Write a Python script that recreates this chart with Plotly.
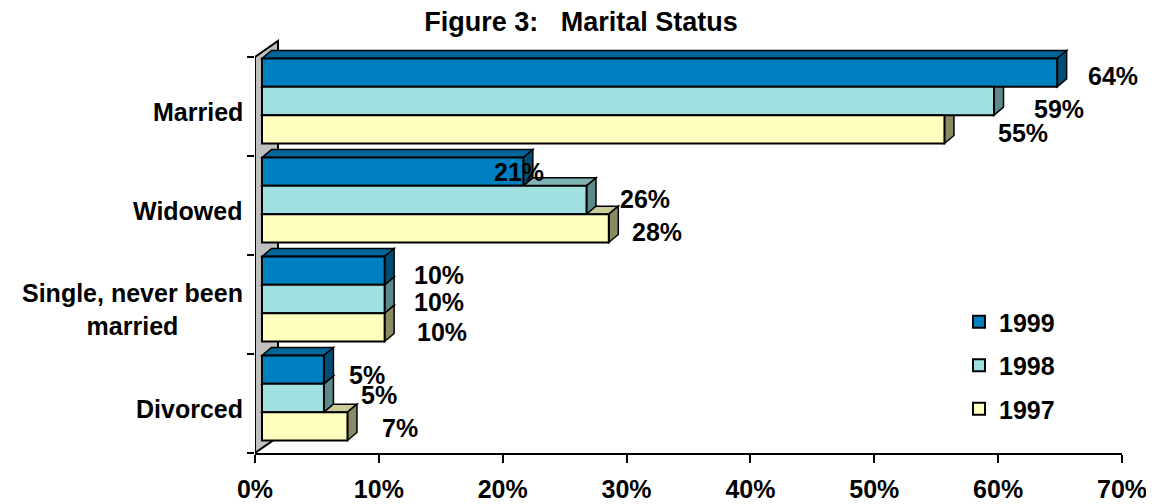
import plotly.graph_objects as go

# ---------------- data ----------------
categories = ["Married", "Widowed", "Single, never been<br>married", "Divorced"]
years = ["1999", "1998", "1997"]
values_1999 = [64.2, 21.1, 9.9, 5.0]
values_1998 = [59.1, 26.2, 9.9, 5.0]
values_1997 = [55.1, 28.0, 9.9, 6.9]
x_ticks = [0, 10, 20, 30, 40, 50, 60, 70]
x_tick_labels = [f"{t}%" for t in x_ticks]

# ---------------- styling ----------------
FONT = "Liberation Sans, Arial, Helvetica, sans-serif"
front_colors = ["#0080C0", "#A0E0E0", "#FFFFC0"]
top_colors = ["#006699", "#80B3B3", "#CCCC99"]
side_colors = ["#004D73", "#5C8A8A", "#8A8A66"]

# label nudges (pixels): right of bar end, down from bar centre
label_dx = [[21, -39, 20, 16], [30, 24, 20, 28], [44, 14, 23, 25]]
label_dy = [[3, 0, 4, 5], [8, -1, 3, -3], [4, 4, 5, 2]]

# the page body adds an 8 px margin, so the figure is sized to end at the window edge
W, H = 1146, 496
ML, MR, MT, MB = 247, 32, 28, 51
plot_w = W - ML - MR
plot_h = H - MT - MB
x_range = [0, 70]
px_per_x = plot_w / (x_range[1] - x_range[0])
y_top_val = -0.5 - 21 / 99.0
y_range = [3.5, y_top_val]
px_per_y = plot_h / (y_range[0] - y_range[1])

# 3-D geometry (in axis units)
bar_shift_x = 7 / px_per_x            # bars start slightly behind the front plane
bar_shift_y = 5.5 / px_per_y
depth_x = 9.5 / px_per_x
depth_y = 8 / px_per_y
bar_w = 28.3 / px_per_y
wall_dx = 23 / px_per_x
wall_dy = 16 / px_per_y

series = [values_1999, values_1998, values_1997]
offsets = [-1.5 * bar_w, -0.5 * bar_w, 0.5 * bar_w]
positions = list(range(len(categories)))

fig = go.Figure()

for j, (yr, vals) in enumerate(zip(years, series)):
    fig.add_trace(go.Bar(
        orientation="h",
        name=yr,
        x=vals,
        y=[p - bar_shift_y for p in positions],
        base=bar_shift_x,
        width=bar_w,
        offset=offsets[j],
        marker=dict(color=front_colors[j], line=dict(color="black", width=2)),
        legendgroup=yr,
        hoverinfo="skip",
    ))

shapes = []
# side wall
shapes.append(dict(
    type="path", xref="x", yref="y", layer="below",
    path=(f"M 0,3.5 L 0,-0.5 L {wall_dx},{-0.5 - wall_dy} "
          f"L {wall_dx},{3.5 - wall_dy} Z"),
    fillcolor="#C0C0C0", line=dict(color="black", width=2),
))

# top and side faces of the bars, drawn bottom bar first
for i in positions:
    for j in [2, 1, 0]:
        v = series[j][i]
        y_lo = i - bar_shift_y + offsets[j]
        y_hi = y_lo + bar_w
        x0 = bar_shift_x
        x1 = bar_shift_x + v
        shapes.append(dict(
            type="path", xref="x", yref="y", layer="below",
            path=(f"M {x0},{y_lo} L {x1},{y_lo} L {x1 + depth_x},{y_lo - depth_y} "
                  f"L {x0 + depth_x},{y_lo - depth_y} Z"),
            fillcolor=top_colors[j], line=dict(color="black", width=1.5),
        ))
        shapes.append(dict(
            type="path", xref="x", yref="y", layer="below",
            path=(f"M {x1},{y_lo} L {x1 + depth_x},{y_lo - depth_y} "
                  f"L {x1 + depth_x},{y_hi - depth_y} L {x1},{y_hi} Z"),
            fillcolor=side_colors[j], line=dict(color="black", width=1.5),
        ))

annotations = []
# value labels
for j, vals in enumerate(series):
    for i, v in enumerate(vals):
        annotations.append(dict(
            x=bar_shift_x + v + depth_x, y=i - bar_shift_y + offsets[j] + bar_w / 2,
            xref="x", yref="y", xanchor="left", yanchor="middle",
            text=f"{v:.0f}%", showarrow=False,
            xshift=label_dx[j][i] - 2, yshift=-label_dy[j][i],
            font=dict(family=FONT, size=25, color="black", weight="bold"),
        ))
# category labels
for i, c in enumerate(categories):
    annotations.append(dict(
        x=-10 / plot_w, y=i, xref="paper", yref="y",
        xanchor="right", yanchor="middle", align="center",
        text=c, showarrow=False, yshift=-5,
        font=dict(family=FONT, size=25, color="black", weight="bold"),
    ))

fig.update_layout(
    width=W, height=H,
    margin=dict(l=ML, r=MR, t=MT, b=MB, pad=0, autoexpand=False),
    paper_bgcolor="white", plot_bgcolor="white",
    barmode="overlay",
    showlegend=True,
    title=dict(
        text="Figure 3:\u00a0\u00a0\u00a0Marital Status",
        x=0.5, xanchor="center", y=1 - 14 / H, yanchor="middle",
        font=dict(family=FONT, size=27, color="black", weight="bold"),
    ),
    xaxis=dict(
        range=x_range, tickvals=x_ticks, ticktext=x_tick_labels,
        showgrid=False, zeroline=False, automargin=False,
        showline=True, linecolor="black", linewidth=2,
        ticks="outside", ticklen=8, tickwidth=2, tickcolor="black",
        ticklabelstandoff=5,
        tickfont=dict(family=FONT, size=25, color="black", weight="bold"),
    ),
    yaxis=dict(
        range=y_range, tickvals=[-0.5, 0.5, 1.5, 2.5, 3.5],
        showticklabels=False, showgrid=False, zeroline=False, showline=False,
        automargin=False,
        ticks="outside", ticklen=7, tickwidth=2, tickcolor="black",
    ),
    legend=dict(
        x=(951 - ML) / plot_w, y=(H - MB - 291) / plot_h,
        xanchor="left", yanchor="top",
        font=dict(family=FONT, size=25, color="black", weight="bold"),
        tracegroupgap=8, bgcolor="rgba(0,0,0,0)",
    ),
    shapes=shapes,
    annotations=annotations,
)

fig.write_html("out.html")
